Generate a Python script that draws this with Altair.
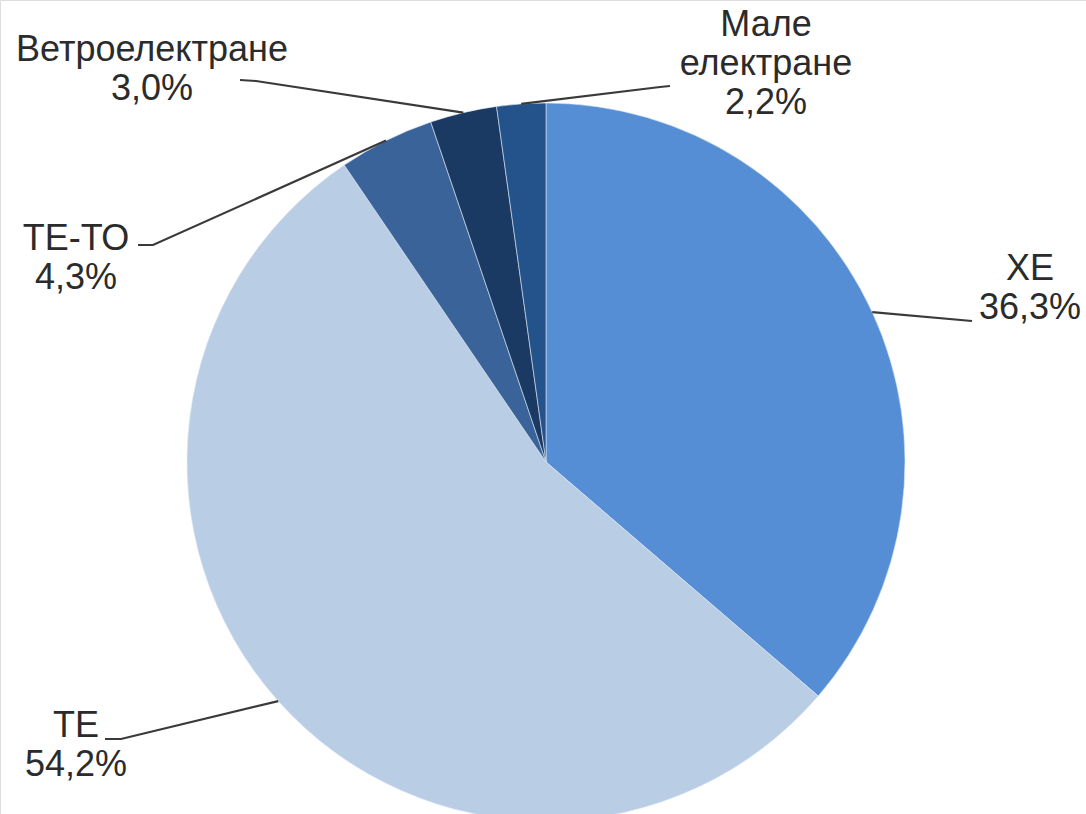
import math
import altair as alt
import pandas as pd

# ---- data ----
categories = ["ХЕ", "ТЕ", "ТЕ-ТО", "Ветроелектране", "Мале електране"]
shares = [36.3, 54.2, 4.3, 3.0, 2.2]
label_names = ["ХЕ", "ТЕ", "ТЕ-ТО", "Ветроелектране", "Мале\nелектране"]
colors = ["#558ED5", "#B9CDE5", "#3A6499", "#1A3A63", "#24528B"]

# ---- layout (pixels) ----
W, H = 1086, 814
CX, CY, R = 546, 462, 359
FONT = "Liberation Sans"
FONT_SIZE = 36
LINE_H = 39
# label anchor: centre x, first-line baseline y
label_pos = {
    "ХЕ": (1030, 280),
    "ТЕ": (76, 737),
    "ТЕ-ТО": (76, 250),
    "Ветроелектране": (152, 61),
    "Мале електране": (766, 36),
}
# leader line points near the label (edge point is computed from the data)
leader_pts = {
    "ХЕ": [(972, 321)],
    "ТЕ": [(105, 739), (121, 739)],
    "ТЕ-ТО": [(138, 245), (153, 245)],
    "Ветроелектране": [(240, 80), (256, 81)],
    "Мале електране": [(670, 86), (660, 87)],
}

def fmt(v):
    return f"{v:.1f}".replace(".", ",") + "%"

pie_df = pd.DataFrame({
    "cat": categories,
    "share": shares,
    "order": list(range(len(categories))),
})

# labels
lab_rows = []
for c, name, v in zip(categories, label_names, shares):
    x, y = label_pos[c]
    lab_rows.append({"cat": c, "x": x, "y": y, "text": name + "\n" + fmt(v)})
lab_df = pd.DataFrame(lab_rows)

# leader lines from slice mid-angle on the rim to the label
total = sum(shares)
line_rows = []
cum = 0.0
for c, v in zip(categories, shares):
    mid = (cum + v / 2) / total * 2 * math.pi
    cum += v
    ex = CX + R * math.sin(mid)
    ey = CY - R * math.cos(mid)
    pts = leader_pts[c]
    seq = [(ex, ey)] + list(reversed(pts))
    for i, (px, py) in enumerate(seq):
        line_rows.append({"cat": c, "seq": i, "x": px, "y": py})
line_df = pd.DataFrame(line_rows)

xs = alt.Scale(domain=[0, W], nice=False, zero=False)
ys = alt.Scale(domain=[0, H], nice=False, zero=False, reverse=True)

pie = alt.Chart(pie_df).mark_arc(radius=R, stroke="#dfe8f3", strokeWidth=0.6).encode(
    theta=alt.Theta("share:Q", stack=True),
    order=alt.Order("order:Q"),
    color=alt.Color("cat:N", scale=alt.Scale(domain=categories, range=colors), legend=None),
    x=alt.value(CX),
    y=alt.value(CY),
)

lines = alt.Chart(line_df).mark_line(color="#3a3a3a", strokeWidth=2.2).encode(
    x=alt.X("x:Q", scale=xs, axis=None),
    y=alt.Y("y:Q", scale=ys, axis=None),
    detail="cat:N",
    order="seq:Q",
)

labels = alt.Chart(lab_df).mark_text(
    font=FONT, fontSize=FONT_SIZE, color="#2b2b2b", align="center",
    baseline="alphabetic", lineBreak="\n", lineHeight=LINE_H,
).encode(
    x=alt.X("x:Q", scale=xs, axis=None),
    y=alt.Y("y:Q", scale=ys, axis=None),
    text="text:N",
)

chart = alt.layer(pie, lines, labels).properties(
    width=W, height=H, padding=0, autosize=alt.AutoSizeParams(type="none"),
).configure_view(stroke=None).configure(background="#ffffff")

chart.save("out.html", embed_options={"renderer": "svg", "actions": False})
